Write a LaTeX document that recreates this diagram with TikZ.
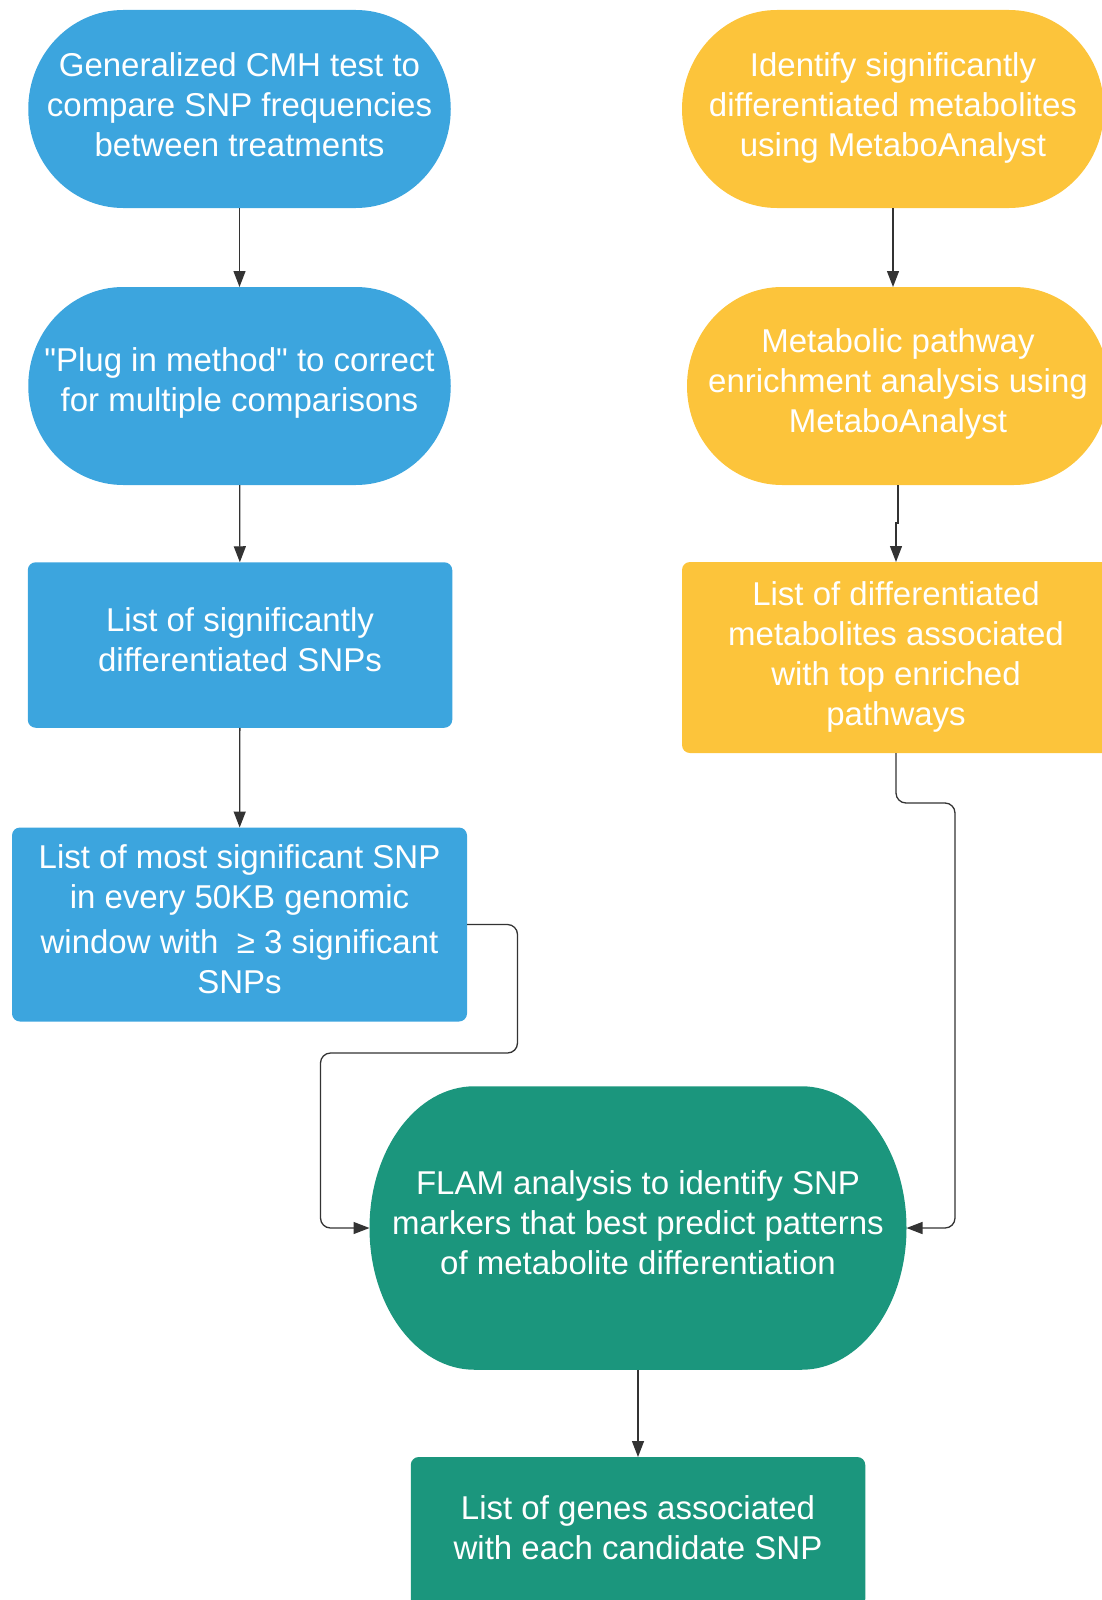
\documentclass[tikz,border=0pt]{standalone}
\usepackage{fontspec}
\setmainfont{Liberation Sans}[Ligatures=TeXOff]
\usetikzlibrary{arrows.meta,calc,backgrounds}
\definecolor{cblue}{RGB}{60,165,222}
\definecolor{cyellow}{RGB}{252,196,59}
\definecolor{cgreen}{RGB}{27,150,125}
\definecolor{cline}{RGB}{51,51,51}
\newcommand\blobfill[3]{%
\fill[#3] ([xshift=#2]#1.north west) -- ([xshift=-#2]#1.north east)
 .. controls ([xshift=-0.4477*#2]#1.north east) and ($(#1.north east)!0.4477!(#1.east)$) .. (#1.east)
 .. controls ($(#1.south east)!0.4477!(#1.east)$) and ([xshift=-0.4477*#2]#1.south east) .. ([xshift=-#2]#1.south east)
 -- ([xshift=#2]#1.south west)
 .. controls ([xshift=0.4477*#2]#1.south west) and ($(#1.south west)!0.4477!(#1.west)$) .. (#1.west)
 .. controls ($(#1.north west)!0.4477!(#1.west)$) and ([xshift=0.4477*#2]#1.north west) .. ([xshift=#2]#1.north west) -- cycle;}
\newcommand\rectfill[2]{\fill[#2, rounded corners=8pt] (#1.north west) rectangle (#1.south east);}
\tikzset{
 shp/.style={inner sep=0pt, outer sep=0pt},
 box/.style={inner sep=0pt, outer sep=0pt, align=center, text=white,
   font=\fontsize{33}{40}\selectfont},
 conn/.style={draw=cline, line width=1.3pt, -{Triangle[length=16pt,width=12pt]}},
}
\begin{document}
\begin{tikzpicture}[x=1pt,y=-1pt]
\useasboundingbox (0,0) rectangle (1102,1600);
% shape nodes
\node[shp, minimum width=422.5pt, minimum height=198pt] (A) at (239.5,109) {};
\node[shp, minimum width=422.5pt, minimum height=198pt] (B) at (239.5,386) {};
\node[shp, minimum width=424.5pt, minimum height=165.5pt] (C) at (240,645) {};
\node[shp, minimum width=455pt, minimum height=194pt] (D) at (239.5,924.5) {};
\node[shp, minimum width=422pt, minimum height=198pt] (E) at (893,109) {};
\node[shp, minimum width=422pt, minimum height=198pt] (F) at (898,386) {};
\node[shp, minimum width=428pt, minimum height=191pt] (G) at (896,657.5) {};
\node[shp, minimum width=537pt, minimum height=283.5pt] (H) at (638,1228) {};
\node[shp, minimum width=454.5pt, minimum height=150pt] (I) at (638,1532) {};
% shapes
\blobfill{A}{95pt}{cblue}
\blobfill{B}{95pt}{cblue}
\rectfill{C}{cblue}
\rectfill{D}{cblue}
\blobfill{E}{95pt}{cyellow}
\blobfill{F}{95pt}{cyellow}
\rectfill{G}{cyellow}
\blobfill{H}{105pt}{cgreen}
\rectfill{I}{cgreen}
% texts
\node[box] (At) at ([yshift=4pt]A.center)
  {Generalized CMH test to\\compare SNP frequencies\\between treatments};
\node[box] (Bt) at ([yshift=3pt]B.center)
  {"Plug in method" to correct\\for multiple comparisons};
\node[box] (Ct) at ([yshift=5pt]C.center)
  {List of significantly\\differentiated SNPs};
\node[box] (Dt) at ([yshift=5pt]D.center)
  {List of most significant SNP\\in every 50KB genomic\\[5pt]window with~ ≥ 3 significant\\SNPs};
\node[box] (Et) at ([yshift=1pt]E.center)
  {Identify significantly\\differentiated metabolites\\using MetaboAnalyst};
\node[box] (Ft) at ([yshift=2pt]F.center)
  {Metabolic pathway\\enrichment analysis using\\MetaboAnalyst};
\node[box] (Gt) at ([yshift=1pt]G.center)
  {List of differentiated\\metabolites associated\\with top enriched\\pathways};
\node[box] (Ht) at ([yshift=5pt]H.center)
  {FLAM analysis to identify SNP\\markers that best predict patterns\\of metabolite differentiation};
\node[box] (It) at ([yshift=4pt]I.center)
  {List of genes associated\\with each candidate SNP};
% connectors
\draw[conn] (A) -- (B);
\draw[conn] (B) -- (C);
\draw[conn] (C) -- (D);
\draw[conn] (E.south) -- (E.south |- F.north);
\draw[conn] (F.south) -- ++(0,38) -| (G.north);
\draw[conn, rounded corners=10pt] (D.east) -| (517.5,1053) -| (320.5,1228) -- (H.west);
\draw[conn, rounded corners=10pt] (G.south) |- (955,803) |- (H.east);
\draw[conn] (H) -- (I);
\end{tikzpicture}
\end{document}
